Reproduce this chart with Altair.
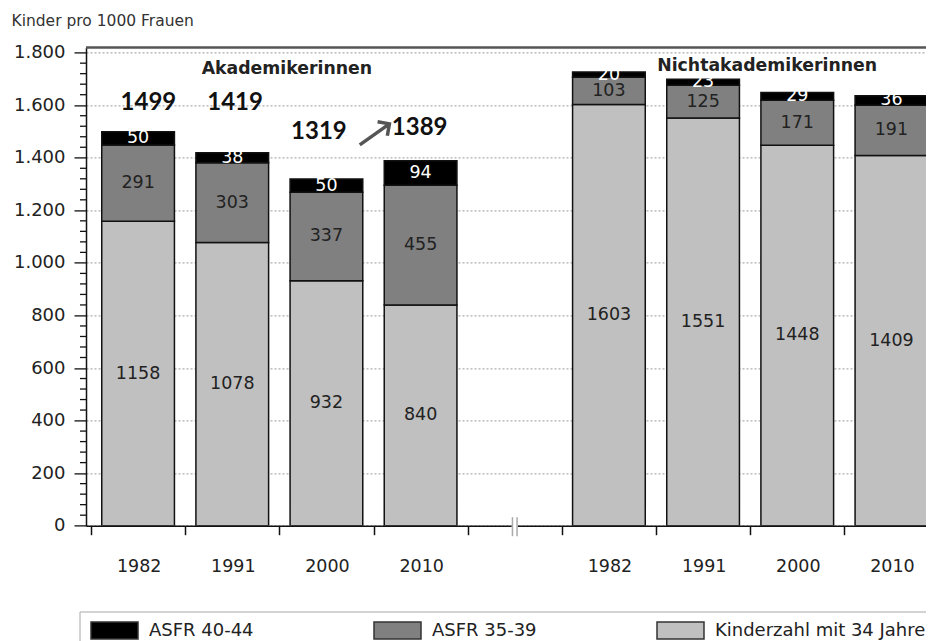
import altair as alt
import pandas as pd

# ---- data ----
years = ["1982", "1991", "2000", "2010"]
akad_slots = [0, 1, 2, 3]
nicht_slots = [5, 6, 7, 8]
series = ["Kinderzahl mit 34 Jahren", "ASFR 35-39", "ASFR 40-44"]
legend_order = ["ASFR 40-44", "ASFR 35-39", "Kinderzahl mit 34 Jahren"]
legend_colors = ["#000000", "#808080", "#c0c0c0"]

akad_base = [1158, 1078, 932, 840]
akad_3539 = [291, 303, 337, 455]
akad_4044 = [50, 38, 50, 94]

nicht_base = [1603, 1551, 1448, 1409]
nicht_3539 = [103, 125, 171, 191]
nicht_4044 = [20, 23, 29, 36]

tick_labels = ["1982", "1991", "2000", "2010", "", "1982", "1991", "2000", "2010"]
major_ticks = [0, 200, 400, 600, 800, 1000, 1200, 1400, 1600, 1800]
minor_ticks = [v for v in range(0, 1801, 40) if v % 200 != 0]

panel_names = ["Akademikerinnen", "Nichtakademikerinnen"]
panel_x = [1.58, 6.68]
panel_y = [1738, 1750]

ann_text = ["1499", "1419", "1319", "1389"]
ann_x = [0.11, 1.03, 1.92, 2.99]
ann_y = [1608, 1608, 1498, 1513]

arrow_x = [2.354, 2.669]
arrow_y = [1449, 1529]

break_x = [4.0]

# ---- build table ----
rows = []
for slots, comps in [
    (akad_slots, [akad_base, akad_3539, akad_4044]),
    (nicht_slots, [nicht_base, nicht_3539, nicht_4044]),
]:
    for i, s in enumerate(slots):
        lo = 0
        for k, name in enumerate(series):
            v = comps[k][i]
            hi = lo + v
            rows.append({
                "slot": s, "series": name, "value": v, "lo": lo, "hi": hi,
                "mid": (lo + hi) / 2,
                "tcol": "white" if name == "ASFR 40-44" else "#222222",
            })
            lo = hi
df = pd.DataFrame(rows)

W = 840
H = 478.3
XDOM = [-0.5, 8.314]
YDOM = [0, 1820]
FONT = "DejaVu Sans"
YTITLE = "Kinder pro 1000 Frauen"

xscale = alt.Scale(domain=XDOM, nice=False, zero=False)
yscale = alt.Scale(domain=YDOM, nice=False, zero=True)

lab_arr = "[" + ",".join("'" + t + "'" for t in tick_labels) + "]"
xaxis = alt.Axis(
    values=[i - 0.5 for i in range(9)],
    labelExpr=lab_arr + "[round(datum.value + 0.5)]",
    labelOffset=47.65,
    labelFlush=False,
    labelOverlap=False,
    labelFont=FONT, labelFontSize=17.5, labelColor="#222222",
    labelPadding=23,
    tickSize=9, tickColor="#111111", tickWidth=1.5,
    domainColor="#111111", domainWidth=1.5,
    grid=False,
)

yaxis = alt.Axis(
    values=major_ticks,
    labelExpr="replace(format(datum.value, ','), ',', '.')",
    labelFont=FONT, labelFontSize=18, labelColor="#222222",
    labelPadding=9,
    tickSize=12,
    tickColor="#111111", tickWidth=1.3,
    domainColor="#111111", domainWidth=1.5,
    grid=True,
    gridColor="#9a9a9a", gridDash=[2, 2], gridWidth=1,
    titleAngle=0, titleAlign="left", titleBaseline="alphabetic",
    titleX=-75, titleY=-22,
    titleFont=FONT, titleFontSize=15.5, titleFontWeight="normal", titleColor="#333333",
)

base = alt.Chart(df)

bars = base.mark_bar(size=72.7, stroke="#111111", strokeWidth=1.5, clip=True).encode(
    x=alt.X("slot:Q", scale=xscale, axis=xaxis, title=None),
    y=alt.Y("lo:Q", scale=yscale, axis=yaxis, title=YTITLE),
    y2="hi:Q",
    color=alt.Color(
        "series:N",
        scale=alt.Scale(domain=legend_order, range=legend_colors),
        legend=alt.Legend(
            title=None, orient="none", legendX=4, legendY=558.6,
            direction="horizontal", columns=3, gridAlign="all", columnPadding=0,
            symbolType="M-1,-0.36H1V0.36H-1Z", symbolSize=2209,
            symbolStrokeColor="#333333", symbolStrokeWidth=1.5,
            labelFont=FONT, labelFontSize=18, labelColor="#222222",
            labelOffset=10, labelLimit=400,
            padding=0,
        ),
    ),
)

seg_text = base.mark_text(font=FONT, fontSize=17.5, clip=True).encode(
    x=alt.X("slot:Q", scale=xscale, title=None),
    y=alt.Y("mid:Q", scale=yscale, title=YTITLE),
    text=alt.Text("value:Q", format="d"),
    color=alt.Color("tcol:N", scale=None, legend=None),
)

minor_df = pd.DataFrame({"v": minor_ticks})
minor = alt.Chart(minor_df).mark_rule(color="#111111", strokeWidth=1.3).encode(
    x=alt.value(-6), x2=alt.value(0),
    y=alt.Y("v:Q", scale=yscale, title=YTITLE),
)

panel_df = pd.DataFrame({"name": panel_names, "x": panel_x, "y": panel_y})
panels = alt.Chart(panel_df).mark_text(font=FONT, fontSize=17.3, fontWeight="bold", color="#222222").encode(
    x=alt.X("x:Q", scale=xscale, title=None),
    y=alt.Y("y:Q", scale=yscale, title=YTITLE),
    text="name:N",
)

ann_df = pd.DataFrame({"t": ann_text, "x": ann_x, "y": ann_y})
anns = alt.Chart(ann_df).mark_text(font="Lato", fontSize=24, fontWeight="bold", color="#111111").encode(
    x=alt.X("x:Q", scale=xscale, title=None),
    y=alt.Y("y:Q", scale=yscale, title=YTITLE),
    text="t:N",
)

arrow_df = pd.DataFrame({"x": arrow_x, "y": arrow_y, "o": [0, 1]})
arrow_line = alt.Chart(arrow_df).mark_line(color="#555555", strokeWidth=3.5).encode(
    x=alt.X("x:Q", scale=xscale, title=None),
    y=alt.Y("y:Q", scale=yscale, title=YTITLE),
    order="o:Q",
)
head_df = pd.DataFrame({"x": arrow_x[1:], "y": arrow_y[1:]})
arrow_head = alt.Chart(head_df).mark_point(
    shape="M-0.8,0.8L0,0L0.8,0.8", size=450, angle=55, filled=False,
    stroke="#555555", strokeWidth=3.5, opacity=1,
).encode(
    x=alt.X("x:Q", scale=xscale, title=None),
    y=alt.Y("y:Q", scale=yscale, title=YTITLE),
)

top_frame = alt.Chart(pd.DataFrame({"a": [0]})).mark_rule(color="#555555", strokeWidth=2.5).encode(
    x=alt.value(0), x2=alt.value(W), y=alt.value(0)
)

# legend box (open at right/bottom, as cropped in the reference)
LBOX_Y = 564.6
box_top = alt.Chart(pd.DataFrame({"a": [0]})).mark_rule(color="#c4c4c4", strokeWidth=1.5).encode(
    x=alt.value(-6), x2=alt.value(W), y=alt.value(LBOX_Y)
)
box_left = alt.Chart(pd.DataFrame({"a": [0]})).mark_rule(color="#c4c4c4", strokeWidth=1.5).encode(
    x=alt.value(-6), y=alt.value(LBOX_Y), y2=alt.value(LBOX_Y + 60)
)

brk_df = pd.DataFrame({"bx": break_x})
brk_white = alt.Chart(brk_df).mark_rule(color="white", strokeWidth=6).encode(
    x=alt.X("bx:Q", scale=xscale, title=None), y=alt.value(H - 5), y2=alt.value(H + 5)
)
brk_l = alt.Chart(brk_df).mark_rule(color="#aaaaaa", strokeWidth=1.5, xOffset=-2.3).encode(
    x=alt.X("bx:Q", scale=xscale, title=None), y=alt.value(H - 8.5), y2=alt.value(H + 10.5)
)
brk_r = alt.Chart(brk_df).mark_rule(color="#aaaaaa", strokeWidth=1.5, xOffset=2.3).encode(
    x=alt.X("bx:Q", scale=xscale, title=None), y=alt.value(H - 8.5), y2=alt.value(H + 10.5)
)

chart = alt.layer(
    bars, seg_text, minor, panels, anns, arrow_line, arrow_head, top_frame,
    box_top, box_left, brk_white, brk_l, brk_r
).properties(
    width=W, height=H,
    autosize=alt.AutoSizeParams(type="none"),
    padding={"left": 78, "top": 39.4, "right": 0, "bottom": 117},
).configure_view(stroke=None)

chart.save("out.html", embed_options={"renderer": "svg", "actions": False})
